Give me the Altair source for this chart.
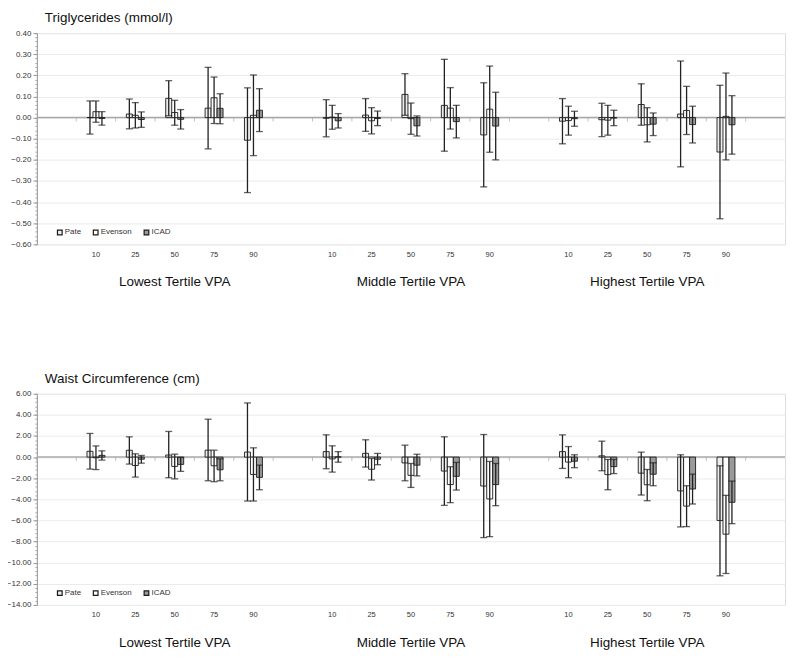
import altair as alt
import pandas as pd

# ---------------- data ----------------
GROUPS = ["Lowest Tertile VPA", "Middle Tertile VPA", "Highest Tertile VPA"]
GROUP_KEYS = ["L", "M", "H"]
PERCENTILES = ["10", "25", "50", "75", "90"]
METHODS = ["Pate", "Evenson", "ICAD"]
METHOD_COLORS = ["#ededed", "#ffffff", "#9a9a9a"]

# Triglycerides (mmol/l): values ordered Lowest(10..90), Middle(10..90), Highest(10..90)
TG_MEAN = {
    "Pate":    [0.000, 0.017, 0.091, 0.045, -0.107, -0.003, 0.012, 0.110, 0.058, -0.082, -0.017, -0.010, 0.062, 0.017, -0.163],
    "Evenson": [0.028, 0.011, 0.024, 0.094, 0.011, 0.002, -0.015, -0.005, 0.045, 0.040, -0.014, -0.012, -0.034, 0.034, 0.006],
    "ICAD":    [-0.004, -0.009, -0.008, 0.044, 0.035, -0.015, -0.004, -0.039, -0.019, -0.040, -0.005, -0.002, -0.031, -0.033, -0.034],
}
TG_UPPER = {
    "Pate":    [0.079, 0.088, 0.175, 0.238, 0.141, 0.085, 0.090, 0.208, 0.276, 0.165, 0.090, 0.068, 0.160, 0.268, 0.153],
    "Evenson": [0.079, 0.071, 0.082, 0.192, 0.202, 0.058, 0.047, 0.069, 0.142, 0.244, 0.054, 0.058, 0.047, 0.148, 0.211],
    "ICAD":    [0.028, 0.027, 0.038, 0.113, 0.137, 0.019, 0.031, 0.008, 0.058, 0.120, 0.030, 0.035, 0.022, 0.054, 0.104],
}
TG_LOWER = {
    "Pate":    [-0.078, -0.053, 0.009, -0.148, -0.355, -0.091, -0.065, 0.011, -0.159, -0.328, -0.124, -0.090, -0.036, -0.233, -0.479],
    "Evenson": [-0.022, -0.049, -0.036, -0.028, -0.180, -0.055, -0.077, -0.079, -0.054, -0.164, -0.083, -0.083, -0.115, -0.080, -0.200],
    "ICAD":    [-0.036, -0.046, -0.054, -0.029, -0.066, -0.049, -0.038, -0.087, -0.096, -0.200, -0.041, -0.038, -0.085, -0.120, -0.173],
}

# Waist circumference (cm)
WC_MEAN = {
    "Pate":    [0.55, 0.65, 0.20, 0.66, 0.48, 0.52, 0.36, -0.55, -1.32, -2.74, 0.52, 0.12, -1.52, -3.20, -6.00],
    "Evenson": [-0.06, -0.79, -0.88, -0.82, -1.64, -0.17, -1.15, -1.73, -2.60, -3.96, -0.47, -1.66, -2.62, -4.64, -7.30],
    "ICAD":    [0.17, -0.20, -0.69, -1.20, -1.92, 0.03, -0.20, -0.76, -1.82, -2.60, -0.39, -0.90, -1.62, -3.02, -4.28],
}
WC_UPPER = {
    "Pate":    [2.24, 1.92, 2.43, 3.59, 5.13, 2.11, 1.64, 1.13, 1.92, 2.14, 2.11, 1.51, 0.47, 0.22, -0.82],
    "Evenson": [1.06, 0.31, 0.28, 0.66, 0.88, 1.07, -0.13, -0.60, -0.91, -0.41, 1.00, -0.22, -1.17, -2.71, -3.62],
    "ICAD":    [0.60, 0.16, -0.03, -0.16, -0.76, 0.52, 0.35, 0.27, -0.50, -0.60, 0.22, -0.22, -0.54, -1.61, -2.27],
}
WC_LOWER = {
    "Pate":    [-1.13, -0.66, -1.95, -2.24, -4.16, -1.10, -0.94, -2.24, -4.57, -7.62, -1.07, -1.29, -3.59, -6.61, -11.24],
    "Evenson": [-1.18, -1.89, -2.06, -2.33, -4.16, -1.42, -2.17, -2.87, -4.31, -7.53, -1.95, -3.09, -4.13, -6.58, -11.02],
    "ICAD":    [-0.28, -0.57, -1.35, -2.24, -3.09, -0.48, -0.72, -1.78, -3.12, -4.60, -1.00, -1.56, -2.71, -4.44, -6.30],
}

TG_TICKS = [0.40, 0.30, 0.20, 0.10, 0.00, -0.10, -0.20, -0.30, -0.40, -0.50, -0.60]
TG_MINOR = [round(-0.60 + 0.02 * k, 2) for k in range(51)]
WC_TICKS = [6.0, 4.0, 2.0, 0.0, -2.0, -4.0, -6.0, -8.0, -10.0, -12.0, -14.0]
WC_MINOR = [round(-14.0 + 0.4 * k, 1) for k in range(51)]

# category slots: an empty slot before, between and after the three groups
SLOTS = ["e0"]
for gi, gk in enumerate(GROUP_KEYS):
    SLOTS += [f"{gk}_{p}" for p in PERCENTILES]
    SLOTS.append(f"e{gi + 1}")

# sub-band domain for the three bars inside a slot (empty sub-bands on each side)
OFFSET_DOMAIN = ["_l"] + METHODS + ["_r"]

FONT = "Liberation Sans"
W = 751
H = 212


def panel(title, mean, upper, lower, ticks, minor):
    rows = []
    for m in METHODS:
        i = 0
        for gk in GROUP_KEYS:
            for p in PERCENTILES:
                rows.append({"slot": f"{gk}_{p}", "method": m,
                             "mean": mean[m][i], "hi": upper[m][i], "lo": lower[m][i]})
                i += 1
    df = pd.DataFrame(rows)

    xscale = alt.Scale(domain=SLOTS, paddingInner=0, paddingOuter=0)
    xaxis = alt.Axis(title=None, domain=False, ticks=False, tickSize=0, grid=False,
                     labelAngle=0, labelFontSize=7.5, labelColor="#333333", labelPadding=6,
                     labelFont=FONT,
                     labelExpr="indexof(datum.value, '_') < 0 ? '' : substring(datum.value, 2)")
    yscale = alt.Scale(domain=[min(ticks), max(ticks)], nice=False, zero=False)
    yaxis = alt.Axis(title=None, orient="left", values=ticks, format=".2f", labelFontSize=8,
                     labelColor="#333333", labelFont=FONT, labelPadding=2, tickSize=4,
                     tickColor="#9a9a9a", domainColor="#9a9a9a", grid=True,
                     gridColor="#ebebeb", gridWidth=1)
    yminor = alt.Axis(title=None, orient="left", values=minor, labels=False, domain=False,
                      grid=False, tickSize=2, tickColor="#a8a8a8", tickWidth=1)
    xoff = alt.XOffset("method:N",
                       scale=alt.Scale(domain=OFFSET_DOMAIN, paddingInner=0, paddingOuter=0.79))

    def X(**kw):
        return alt.X("slot:N", scale=xscale, axis=xaxis, sort=SLOTS, **kw)

    def Y(field, axis=None):
        return alt.Y(field, scale=yscale, axis=axis)

    base = alt.Chart(df)

    zero = alt.Chart(pd.DataFrame({"v": [0.0]})).mark_rule(
        color="#a8a8a8", strokeWidth=1.5).encode(y=Y("v:Q", yminor))

    bticks = alt.Chart(pd.DataFrame({"slot": SLOTS, "v": [0.0] * len(SLOTS)})).mark_tick(
        orient="vertical", size=4, thickness=1, color="#a8a8a8", yOffset=2).encode(
        x=X(bandPosition=0), y=Y("v:Q"))

    bars = base.mark_bar(stroke="#1a1a1a", strokeWidth=0.9).encode(
        x=X(),
        xOffset=xoff,
        y=Y("mean:Q", yaxis),
        color=alt.Color("method:N", sort=METHODS,
                        scale=alt.Scale(domain=METHODS, range=METHOD_COLORS),
                        legend=alt.Legend(orient="none", legendX=19, legendY=196,
                                          direction="horizontal", title=None,
                                          symbolType="square", symbolSize=22,
                                          symbolStrokeColor="#1a1a1a", symbolStrokeWidth=1.2,
                                          labelFontSize=8, labelFont=FONT,
                                          labelColor="#333333", columnPadding=9,
                                          labelOffset=1)),
    )

    whisk = base.mark_rule(color="#222222", strokeWidth=1.3).encode(
        x=X(), xOffset=xoff, y=Y("lo:Q"), y2="hi:Q")

    caps = base.transform_fold(["lo", "hi"], as_=["end", "val"]).mark_tick(
        orient="horizontal", size=7, thickness=1.3, color="#222222").encode(
        x=X(), xOffset=xoff, y=Y("val:Q"))

    ttl = alt.Chart(pd.DataFrame({"t": [title]})).mark_text(
        align="left", baseline="alphabetic", fontSize=13.5, font=FONT, color="#111111").encode(
        x=alt.value(8), y=alt.value(-11), text="t:N")

    glab = alt.Chart(pd.DataFrame({"slot": [f"{gk}_50" for gk in GROUP_KEYS],
                                   "g": GROUPS})).mark_text(
        align="center", baseline="alphabetic", fontSize=13.5, font=FONT, color="#111111").encode(
        x=X(), y=alt.value(H + 42), text="g:N")

    return alt.layer(zero, bticks, bars, whisk, caps, ttl, glab).resolve_axis(
        y="independent").properties(width=W, height=H)


top = panel("Triglycerides (mmol/l)", TG_MEAN, TG_UPPER, TG_LOWER, TG_TICKS, TG_MINOR)
bottom = panel("Waist Circumference (cm)", WC_MEAN, WC_UPPER, WC_LOWER, WC_TICKS, WC_MINOR)

chart = alt.vconcat(top, bottom, spacing=82).resolve_scale(
    y="independent").resolve_legend(color="independent").properties(
    padding={"left": -3, "top": 1, "right": 5, "bottom": 2}
).configure_view(stroke=None).configure(font=FONT)

chart.save("out.html", embed_options={"renderer": "svg", "actions": False})
